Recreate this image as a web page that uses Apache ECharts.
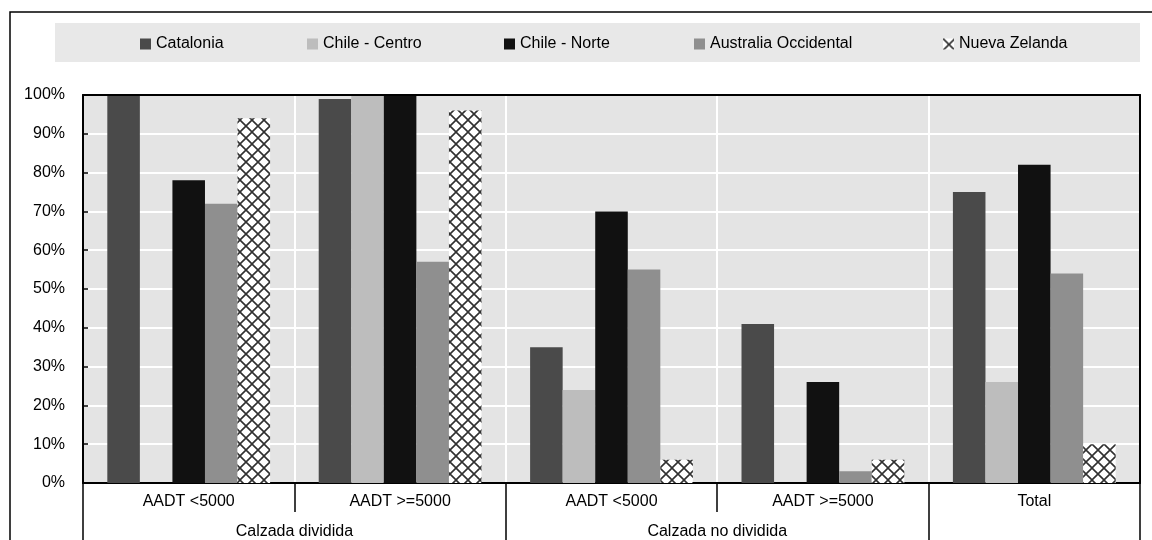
<!DOCTYPE html>
<html>
<head>
<meta charset="utf-8">
<style>
  html, body { margin: 0; padding: 0; background: #fff; }
  #chart { width: 1152px; height: 540px; }
</style>
<script src="https://cdn.jsdelivr.net/npm/echarts@6/dist/echarts.min.js"></script>
</head>
<body>
<div id="chart"></div>
<script>
// Road sections by carriageway type and traffic volume
const categories = ['AADT <5000', 'AADT >=5000', 'AADT <5000', 'AADT >=5000', 'Total'];
const groups = ['Calzada dividida', 'Calzada no dividida', ''];
const groupSpans = [2, 2, 1];

const seriesNames = ['Catalonia', 'Chile - Centro', 'Chile - Norte', 'Australia Occidental', 'Nueva Zelanda'];
const catalonia    = [100, 99, 35, 41, 75];
const chileCentro  = [0, 100, 24, 0, 26];
const chileNorte   = [78, 100, 70, 26, 82];
const australiaOcc = [72, 57, 55, 3, 54];
const nuevaZelanda = [94, 96, 6, 6, 10];

const yTicks = [0, 10, 20, 30, 40, 50, 60, 70, 80, 90, 100];

const FONT = '"Liberation Sans", Arial, sans-serif';

// Cross-hatch fill used for Nueva Zelanda
function hatchCanvas() {
  const s = 12;
  const c = document.createElement('canvas');
  c.width = s; c.height = s;
  const g = c.getContext('2d');
  g.fillStyle = '#ffffff';
  g.fillRect(0, 0, s, s);
  g.strokeStyle = '#303030';
  g.lineWidth = 1.6;
  g.beginPath();
  g.moveTo(0, 0); g.lineTo(s, s);
  g.moveTo(s, 0); g.lineTo(0, s);
  g.stroke();
  return c;
}
const hatch = { image: hatchCanvas(), repeat: 'repeat' };

const colors = ['#4a4a4a', '#bdbdbd', '#111111', '#8f8f8f', hatch];
const values = [catalonia, chileCentro, chileNorte, australiaOcc, nuevaZelanda];

// Group boundaries and centres along the category axis (in category units)
const groupTicks = [0];
const groupCentres = [];
groupSpans.forEach((span) => {
  const start = groupTicks[groupTicks.length - 1];
  groupCentres.push(start + span / 2);
  groupTicks.push(start + span);
});

const legendLefts = [140, 307, 504, 694, 943];

const chart = echarts.init(document.getElementById('chart'), null, { renderer: 'canvas' });

const frameLine = { show: true, lineStyle: { color: '#000', width: 2 } };

chart.setOption({
  animation: false,
  backgroundColor: '#ffffff',
  textStyle: { fontFamily: FONT },
  graphic: [
    { type: 'rect', z: -10, silent: true,
      shape: { x: 10, y: 12, width: 1200, height: 600 },
      style: { fill: 'none', stroke: '#000', lineWidth: 1.5 } },
    { type: 'rect', z: -9, silent: true,
      shape: { x: 55, y: 23, width: 1085, height: 39 },
      style: { fill: '#e8e8e8' } }
  ],
  legend: seriesNames.map((name, i) => ({
    data: [name],
    left: legendLefts[i],
    top: 36,
    padding: 0,
    itemWidth: 11,
    itemHeight: 11,
    icon: 'rect',
    textStyle: { fontSize: 16, color: '#000', fontFamily: FONT }
  })),
  grid: {
    left: 83, right: 12, top: 95, bottom: 57,
    show: true,
    backgroundColor: '#e4e4e4',
    borderWidth: 0
  },
  xAxis: [
    {
      type: 'category',
      data: categories,
      position: 'bottom',
      axisLine: frameLine,
      axisTick: { show: true, interval: 0, length: 29, lineStyle: { color: '#000', width: 1.5 } },
      splitLine: { show: true, interval: 0, lineStyle: { color: '#ffffff', width: 2 } },
      axisLabel: { interval: 0, margin: 11, fontSize: 16, color: '#000', fontFamily: FONT }
    },
    {
      type: 'value',
      min: 0,
      max: categories.length,
      position: 'bottom',
      axisLine: { show: false },
      splitLine: { show: false },
      axisTick: { show: true, customValues: groupTicks, length: 58, lineStyle: { color: '#000', width: 1.5 } },
      axisLabel: {
        customValues: groupCentres,
        margin: 41,
        fontSize: 16,
        color: '#000',
        fontFamily: FONT,
        formatter: (v) => {
          const i = groupCentres.indexOf(v);
          return i >= 0 ? groups[i] : '';
        }
      }
    },
    {
      // top edge of the plot frame
      type: 'category',
      data: categories,
      position: 'top',
      z: 3,
      axisLine: frameLine,
      axisTick: { show: false },
      axisLabel: { show: false },
      splitLine: { show: false }
    }
  ],
  yAxis: [
    {
      type: 'value',
      min: yTicks[0],
      max: yTicks[yTicks.length - 1],
      interval: yTicks[1] - yTicks[0],
      axisLine: frameLine,
      axisTick: { show: true, inside: true, length: 5, lineStyle: { color: '#000', width: 1.5 } },
      splitLine: { show: true, lineStyle: { color: '#ffffff', width: 2 } },
      axisLabel: {
        formatter: '{value}%', margin: 18, fontSize: 16, color: '#000', fontFamily: FONT,
        padding: [4, 0, 0, 0]
      }
    },
    {
      // right edge of the plot frame
      type: 'value',
      min: yTicks[0],
      max: yTicks[yTicks.length - 1],
      interval: yTicks[1] - yTicks[0],
      position: 'right',
      z: 3,
      axisLine: frameLine,
      axisTick: { show: false },
      axisLabel: { show: false },
      splitLine: { show: false }
    }
  ],
  series: seriesNames.map((name, i) => ({
    name: name,
    type: 'bar',
    xAxisIndex: 0,
    yAxisIndex: 0,
    data: values[i],
    barGap: '0%',
    barCategoryGap: '23%',
    itemStyle: { color: colors[i] }
  }))
});
</script>
</body>
</html>
